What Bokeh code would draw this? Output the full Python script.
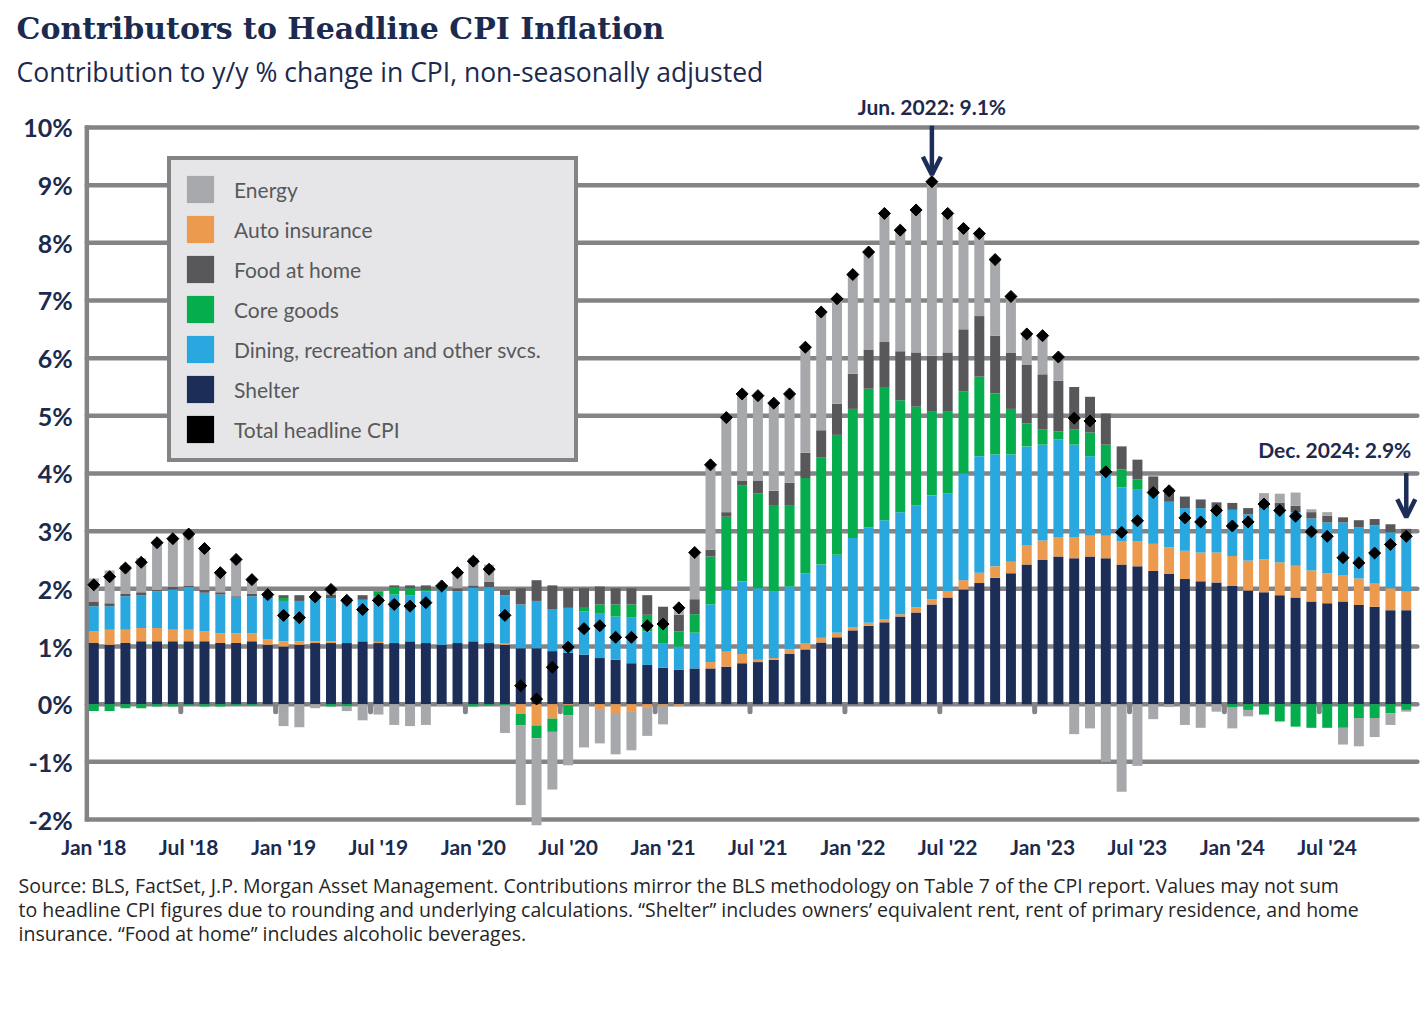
import numpy as np
from bokeh.plotting import figure
from bokeh.models import (ColumnDataSource, Legend, LegendItem, Label, Arrow, OpenHead, Range1d)
from bokeh.core.properties import value
from bokeh.embed import file_html
from bokeh.resources import INLINE

# ---------------- data (Jan 2018 .. Dec 2024, contribution in %-pts) ----------------
months = [f"{y}-{m:02d}" for y in range(2018, 2025) for m in range(1, 13)]

shelter = [1.06, 1.03, 1.06, 1.09, 1.09, 1.09, 1.09, 1.09, 1.06, 1.06, 1.09, 1.03,
           1.00, 1.03, 1.06, 1.06, 1.06, 1.09, 1.06, 1.06, 1.09, 1.06, 1.03, 1.06,
           1.09, 1.06, 1.03, 0.97, 0.97, 0.92, 0.89, 0.86, 0.80, 0.77, 0.71, 0.68,
           0.63, 0.60, 0.62, 0.62, 0.65, 0.71, 0.73, 0.77, 0.87, 0.95, 1.07, 1.16,
           1.28, 1.36, 1.42, 1.52, 1.59, 1.73, 1.85, 1.99, 2.10, 2.19, 2.27, 2.42,
           2.50, 2.56, 2.53, 2.56, 2.53, 2.42, 2.39, 2.31, 2.26, 2.17, 2.13, 2.11,
           2.05, 1.97, 1.94, 1.89, 1.85, 1.78, 1.75, 1.78, 1.72, 1.69, 1.63, 1.63]

auto_ins = [0.20, 0.26, 0.23, 0.23, 0.23, 0.20, 0.20, 0.17, 0.17, 0.17, 0.14, 0.09,
            0.09, 0.06, 0.03, 0.03, 0.00, 0.00, 0.02, 0.00, 0.00, 0.00, 0.00, 0.00,
            0.00, 0.00, 0.03, -0.17, -0.37, -0.25, -0.02, 0.00, -0.10, -0.17, -0.12, -0.05,
            -0.03, -0.03, 0.00, 0.11, 0.26, 0.16, 0.04, 0.03, 0.08, 0.10, 0.08, 0.08,
            0.05, 0.05, 0.05, 0.04, 0.09, 0.09, 0.11, 0.16, 0.18, 0.20, 0.20, 0.34,
            0.34, 0.34, 0.37, 0.36, 0.39, 0.40, 0.43, 0.47, 0.46, 0.49, 0.50, 0.52,
            0.52, 0.52, 0.57, 0.57, 0.55, 0.54, 0.52, 0.46, 0.46, 0.40, 0.38, 0.32]

dining = [0.44, 0.41, 0.58, 0.57, 0.64, 0.70, 0.74, 0.67, 0.67, 0.63, 0.64, 0.72,
          0.70, 0.70, 0.75, 0.75, 0.70, 0.72, 0.79, 0.84, 0.80, 0.90, 0.96, 0.90,
          0.93, 0.97, 0.83, 0.76, 0.82, 0.72, 0.78, 0.75, 0.78, 0.75, 0.79, 0.58,
          0.43, 0.40, 0.62, 1.00, 1.07, 1.26, 1.24, 1.16, 1.09, 1.22, 1.27, 1.35,
          1.55, 1.66, 1.72, 1.77, 1.77, 1.80, 1.69, 1.85, 2.02, 1.94, 1.86, 1.71,
          1.66, 1.69, 1.60, 1.38, 1.09, 0.94, 0.91, 0.85, 0.79, 0.74, 0.77, 0.70,
          0.80, 0.80, 0.89, 0.94, 0.93, 0.90, 0.88, 0.91, 0.89, 1.01, 0.97, 0.97]

core_goods = [-0.12, -0.12, -0.07, -0.07, -0.04, -0.04, -0.02, -0.04, -0.04, -0.02, -0.02, 0.00,
              0.05, 0.00, 0.00, -0.04, -0.04, 0.00, 0.08, 0.13, 0.12, 0.02, 0.03, 0.00,
              -0.04, -0.02, -0.02, -0.20, -0.22, -0.23, -0.17, 0.06, 0.15, 0.21, 0.23, 0.29,
              0.32, 0.26, 0.32, 0.83, 1.27, 1.66, 1.64, 1.48, 1.40, 1.65, 1.86, 2.08,
              2.24, 2.40, 2.31, 1.94, 1.71, 1.45, 1.42, 1.42, 1.38, 1.06, 0.79, 0.40,
              0.26, 0.14, 0.26, 0.41, 0.49, 0.31, 0.17, 0.03, 0.00, 0.00, 0.00, 0.00,
              -0.06, -0.10, -0.18, -0.30, -0.39, -0.41, -0.41, -0.41, -0.24, -0.24, -0.16, -0.10]

food_home = [0.07, 0.05, 0.04, 0.05, 0.02, 0.04, 0.03, 0.05, 0.04, 0.01, 0.04, 0.03,
             0.05, 0.10, 0.03, 0.06, 0.08, 0.08, 0.01, 0.03, 0.05, 0.08, 0.00, 0.05,
             0.04, 0.09, 0.09, 0.28, 0.36, 0.42, 0.34, 0.34, 0.31, 0.28, 0.28, 0.34,
             0.31, 0.29, 0.26, 0.12, 0.08, 0.08, 0.22, 0.26, 0.40, 0.44, 0.47, 0.54,
             0.61, 0.68, 0.78, 0.85, 0.94, 0.97, 1.03, 1.08, 1.05, 1.00, 0.97, 1.02,
             0.96, 0.88, 0.74, 0.62, 0.54, 0.40, 0.34, 0.29, 0.23, 0.20, 0.15, 0.17,
             0.12, 0.11, 0.08, 0.09, 0.11, 0.11, 0.12, 0.09, 0.12, 0.11, 0.14, 0.12]

energy = [0.41, 0.57, 0.50, 0.59, 0.82, 0.83, 0.88, 0.70, 0.37, 0.64, 0.25, 0.00,
          -0.38, -0.40, -0.07, 0.06, -0.08, -0.28, -0.18, -0.36, -0.38, -0.36, -0.03, 0.27,
          0.47, 0.30, -0.48, -1.38, -1.51, -1.00, -0.87, -0.75, -0.58, -0.70, -0.68, -0.50,
          -0.32, 0.15, 0.81, 1.45, 1.64, 1.51, 1.48, 1.52, 1.54, 1.83, 2.05, 1.82,
          1.72, 1.69, 2.23, 2.10, 2.47, 2.97, 2.41, 1.75, 1.43, 1.32, 0.98, 0.53,
          0.67, 0.41, -0.52, -0.42, -1.00, -1.52, -1.07, -0.26, -0.05, -0.36, -0.41, -0.13,
          -0.36, -0.11, 0.18, 0.16, 0.23, 0.05, 0.06, -0.29, -0.49, -0.33, -0.20, -0.03]

total_cpi = [2.07, 2.21, 2.36, 2.46, 2.80, 2.87, 2.95, 2.70, 2.28, 2.51, 2.16, 1.90,
             1.54, 1.50, 1.86, 1.99, 1.80, 1.64, 1.80, 1.73, 1.70, 1.76, 2.05, 2.28,
             2.48, 2.34, 1.54, 0.32, 0.09, 0.64, 0.99, 1.31, 1.36, 1.16, 1.16, 1.36,
             1.39, 1.67, 2.63, 4.15, 4.97, 5.38, 5.35, 5.22, 5.38, 6.19, 6.80, 7.03,
             7.45, 7.84, 8.51, 8.22, 8.57, 9.06, 8.51, 8.25, 8.16, 7.71, 7.07, 6.42,
             6.39, 6.02, 4.96, 4.91, 4.03, 2.98, 3.18, 3.67, 3.70, 3.23, 3.16, 3.36,
             3.09, 3.16, 3.47, 3.36, 3.26, 2.99, 2.91, 2.54, 2.45, 2.62, 2.77, 2.91]

tick_labels = ["Jan '18", "Jul '18", "Jan '19", "Jul '19", "Jan '20", "Jul '20", "Jan '21",
               "Jul '21", "Jan '22", "Jul '22", "Jan '23", "Jul '23", "Jan '24", "Jul '24"]
y_ticks = list(range(-2, 11))

# ---------------- styling ----------------
NAVY_TXT = "#1B2A4E"
NAVY = "#1C2D58"
GRID = "#848487"
COLORS = {"Shelter": NAVY, "Auto insurance": "#EC9A4E",
          "Dining, recreation and other svcs.": "#29A8E0", "Core goods": "#06AD4D",
          "Food at home": "#58585B", "Energy": "#A7A8AB"}

W, H = 1420, 990
X_LO, X_HI = -0.44, 83.7       # extent of the plotting area (bar index units)
Y_LO, Y_HI = -2.0, 10.0

x = np.arange(len(months))

# the whole canvas is the frame, so that every text can be placed freely
p = figure(width=W, height=H,
           x_range=Range1d(-5.90, 83.90), y_range=Range1d(-4.965, 12.202),
           x_axis_type=None, y_axis_type=None,
           output_backend="svg", toolbar_location=None,
           min_border_left=0, min_border_right=0, min_border_top=0, min_border_bottom=0)
p.title.visible = False
p.outline_line_color = None
p.background_fill_color = "white"
p.border_fill_color = "white"
p.grid.visible = False

# horizontal gridlines + left axis line
p.segment(x0=[X_LO] * len(y_ticks), y0=y_ticks, x1=[X_HI] * len(y_ticks), y1=y_ticks,
          line_color=GRID, line_width=4.5, line_cap="round")
p.segment(x0=[X_LO], y0=[Y_LO - 0.04], x1=[X_LO], y1=[Y_HI + 0.04],
          line_color=GRID, line_width=4.5)

# y tick labels
p.text(x=[X_LO] * len(y_ticks), y=y_ticks, text=[f"{t}%" for t in y_ticks],
       x_offset=-14, text_align="right", text_baseline="middle",
       text_font=value("Lato"), text_font_style="bold", text_font_size="25px",
       text_color=NAVY_TXT)

# x tick labels
xt = list(range(0, 84, 6))
p.text(x=xt, y=[Y_LO] * len(xt), text=tick_labels, y_offset=27,
       text_align="center", text_baseline="middle",
       text_font=value("Lato"), text_font_style="bold", text_font_size="21px",
       text_color=NAVY_TXT)

# small half-year tick marks under the zero line
hx = [t + 5.5 for t in xt[:-1]]
p.segment(x0=hx, y0=[-0.04] * len(hx), x1=hx, y1=[-0.13] * len(hx),
          line_color=GRID, line_width=5, line_cap="round")

# stacked bars (positive parts stack up, negative parts stack down)
stack = [("Shelter", shelter), ("Auto insurance", auto_ins),
         ("Dining, recreation and other svcs.", dining), ("Core goods", core_goods),
         ("Food at home", food_home), ("Energy", energy)]
pos_base = np.zeros(len(x))
neg_base = np.zeros(len(x))
renderers = {}
for name, vals in stack:
    v = np.array(vals, dtype=float)
    pos = np.clip(v, 0, None)
    neg = np.clip(v, None, 0)
    bottom = np.where(v >= 0, pos_base, neg_base)
    top = np.where(v >= 0, pos_base + pos, neg_base + neg)
    pos_base = pos_base + pos
    neg_base = neg_base + neg
    src = ColumnDataSource(dict(x=x, bottom=bottom, top=top))
    renderers[name] = p.vbar(x="x", bottom="bottom", top="top", width=0.63,
                             fill_color=COLORS[name], line_color=None, source=src)

# total headline CPI markers
p.scatter(x=x, y=total_cpi, marker="square", angle=np.pi / 4, size=8.5,
          fill_color="black", line_color="black")
# hidden companion renderer: gives the legend its black square swatch
tot_leg = p.vbar(x=x, top=total_cpi, width=0.6, fill_color="black", line_color=None,
                 visible=False)

# legend
order = ["Energy", "Auto insurance", "Food at home", "Core goods",
         "Dining, recreation and other svcs.", "Shelter"]
items = [LegendItem(label=n, renderers=[renderers[n]]) for n in order]
items.append(LegendItem(label="Total headline CPI", renderers=[tot_leg]))
legend = Legend(items=items, location=(167, H - 462), margin=0,
                glyph_width=34, glyph_height=34, label_standoff=17, spacing=6, padding=12,
                label_width=328, label_text_font="Lato", label_text_font_size="21px",
                label_text_color="#58595B", label_text_baseline="middle",
                background_fill_color="#E6E6E8", background_fill_alpha=1.0,
                border_line_color=GRID, border_line_width=4.5, border_line_alpha=1.0,
                inactive_fill_alpha=0.0)
p.add_layout(legend)

# annotations for peak and latest
i_peak = int(np.argmax(total_cpi))
i_last = len(total_cpi) - 1
p.add_layout(Arrow(end=OpenHead(size=18, line_width=4.5, line_color=NAVY),
                   x_start=i_peak, y_start=total_cpi[i_peak] + 0.97,
                   x_end=i_peak, y_end=total_cpi[i_peak] + 0.12,
                   line_color=NAVY, line_width=4.5))
p.add_layout(Label(x=i_peak, y=total_cpi[i_peak] + 1.30, text="Jun. 2022: 9.1%",
                   text_align="center", text_baseline="alphabetic", text_font="Lato",
                   text_font_style="bold", text_font_size="21px", text_color=NAVY_TXT))
p.add_layout(Arrow(end=OpenHead(size=18, line_width=4.5, line_color=NAVY),
                   x_start=i_last, y_start=total_cpi[i_last] + 1.10,
                   x_end=i_last, y_end=total_cpi[i_last] + 0.33,
                   line_color=NAVY, line_width=4.5))
p.add_layout(Label(x=i_last, x_offset=5, y=total_cpi[i_last] + 1.51, text="Dec. 2024: 2.9%",
                   text_align="right", text_baseline="alphabetic", text_font="Lato",
                   text_font_style="bold", text_font_size="21px", text_color=NAVY_TXT))

# title, subtitle, footnote (screen px, measured from the canvas bottom-left)
p.add_layout(Label(x=16, y=H - 28, x_units="screen", y_units="screen",
                   text="Contributors to Headline CPI Inflation", text_font="DejaVu Serif",
                   text_font_style="bold", text_font_size="30px", text_color=NAVY_TXT,
                   text_baseline="alphabetic"))
p.add_layout(Label(x=16, y=H - 71, x_units="screen", y_units="screen",
                   text="Contribution to y/y % change in CPI, non-seasonally adjusted",
                   text_font="Open Sans", text_font_size="26.5px", text_color=NAVY_TXT,
                   text_baseline="alphabetic"))
foot = ["Source: BLS, FactSet, J.P. Morgan Asset Management. Contributions mirror the BLS methodology on Table 7 of the CPI report. Values may not sum",
        "to headline CPI figures due to rounding and underlying calculations. \u201cShelter\u201d includes owners\u2019 equivalent rent, rent of primary residence, and home",
        "insurance. \u201cFood at home\u201d includes alcoholic beverages."]
for k, line in enumerate(foot):
    p.add_layout(Label(x=18, y=H - 885 - 24 * k, x_units="screen", y_units="screen",
                       text=line, text_font="Open Sans", text_font_size="19.5px",
                       text_color="#262626", text_baseline="alphabetic"))

open("out.html", "w").write(file_html(p, INLINE))
